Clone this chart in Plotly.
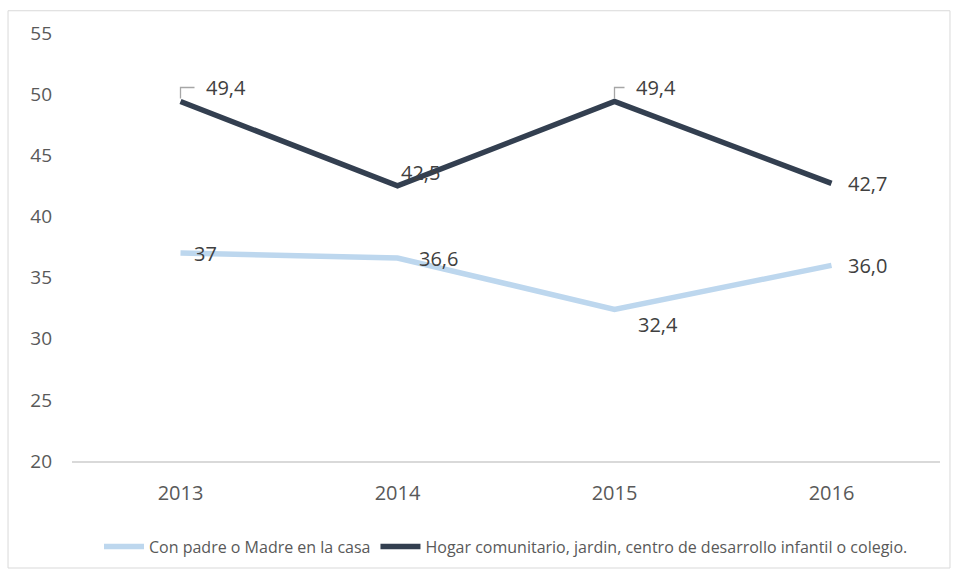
import plotly.graph_objects as go

# valores
years = ['2013', '2014', '2015', '2016']
padre_madre = [37, 36.6, 32.4, 36.0]
hogar = [49.4, 42.5, 49.4, 42.7]
padre_labels = ['37', '36,6', '32,4', '36,0']
hogar_labels = ['49,4', '42,5', '49,4', '42,7']

light = '#BDD7EE'
dark = '#333F50'
font = 'Open Sans, sans-serif'
xi = list(range(len(years)))

fig = go.Figure()
fig.add_trace(go.Scatter(x=xi, y=padre_madre, mode='lines', name='Con padre o Madre en la casa',
                         line=dict(color=light, width=5.5)))
fig.add_trace(go.Scatter(x=xi, y=hogar, mode='lines',
                         name='Hogar comunitario, jardin, centro de desarrollo infantil o colegio.',
                         line=dict(color=dark, width=5.5)))

# etiquetas de datos (desplazamientos en píxeles)
padre_shift = [(11, 0), (19, 0), (21, -15), (14, 0)]
hogar_shift = [(23, 14), (1, 13), (19, 14), (14, 0)]
for i, v, t, (dx, dy) in zip(xi, padre_madre, padre_labels, padre_shift):
    fig.add_annotation(x=i, y=v, text=t, showarrow=False, xanchor='left', yanchor='middle',
                       xshift=dx, yshift=dy, font=dict(size=20, color='#404040', family=font))
for i, v, t, (dx, dy) in zip(xi, hogar, hogar_labels, hogar_shift):
    fig.add_annotation(x=i, y=v, text=t, showarrow=False, xanchor='left', yanchor='middle',
                       xshift=dx, yshift=dy, font=dict(size=20, color='#404040', family=font))

# líneas guía de las etiquetas 49,4
for i, w in [(0, 14), (2, 10)]:
    fig.add_shape(type='path', xref='x', yref='y', xsizemode='pixel', ysizemode='pixel',
                  xanchor=i, yanchor=hogar[i], path=f'M0,3 L0,14 L{w},14',
                  line=dict(color='#A6A6A6', width=1.3))

# borde exterior
fig.add_shape(type='rect', xref='paper', yref='paper', x0=-0.0737, x1=1.0115, y0=-0.25, y1=1.052,
              line=dict(color='#D9D9D9', width=1))

fig.update_layout(
    width=956, height=576,
    margin=dict(l=72, r=16, t=33, b=106),
    paper_bgcolor='white', plot_bgcolor='white',
    font=dict(family=font, color='#595959'),
    showlegend=True,
    legend=dict(orientation='h', x=0.5, xanchor='center', y=-0.16, yanchor='top',
                font=dict(size=16, color='#595959'), itemwidth=40),
)
fig.update_xaxes(range=[-0.5, 3.5], tickvals=xi, ticktext=years, showgrid=False, zeroline=False,
                 showline=True, linecolor='#D9D9D9', linewidth=1.5,
                 tickfont=dict(size=20), ticks='', ticklabelstandoff=13)
fig.update_yaxes(range=[20, 55], dtick=5, showgrid=False, zeroline=False, showline=False,
                 tickfont=dict(size=19), ticks='', ticklabelstandoff=19)

# quitar el margen por defecto de la página
fig.write_html('out.html', config={'displayModeBar': False},
               post_script="document.body.style.margin='0';")
